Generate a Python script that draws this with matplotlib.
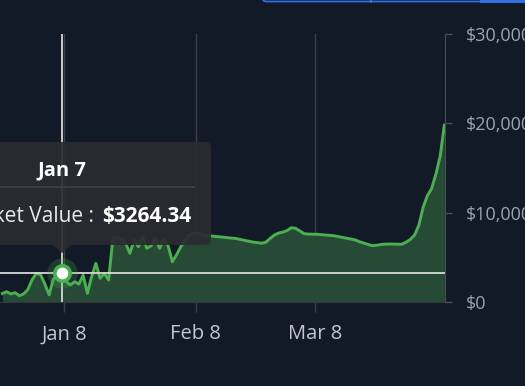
import numpy as np
import pandas as pd
import matplotlib
matplotlib.use("Agg")
import matplotlib.pyplot as plt
import matplotlib.dates as mdates
import matplotlib.patches as mpatches
from matplotlib.transforms import IdentityTransform
from matplotlib.ticker import FuncFormatter, FixedLocator

plt.rcParams["font.family"] = ["Open Sans", "DejaVu Sans"]

# daily market value, one point per day from Dec 24
values = [
    950, 1150, 900, 1040, 700, 900, 1400, 2500, 3200, 3050,
    2000, 800, 2600, 2900, 3264.34, 2300, 1900, 2270, 2010, 3000,
    970, 2830, 4330, 2650, 3210, 2460, 7130, 7240, 7100, 6570,
    5450, 6940, 6190, 7310, 6010, 6300, 7130, 6010, 7020, 6270,
    4510, 5300, 6200, 6900, 7500, 7650, 7690, 7550, 7450, 7390,
    7350, 7300, 7250, 7200, 7150, 7100, 7000, 6900, 6800, 6700,
    6650, 6570, 6700, 7100, 7500, 7720, 7820, 8000, 8320, 8250,
    7950, 7650, 7600, 7590, 7580, 7540, 7500, 7460, 7420, 7330,
    7230, 7140, 7050, 6950, 6750, 6600, 6450, 6300, 6350, 6430,
    6480, 6490, 6480, 6470, 6470, 6700, 7000, 7500, 8600, 10600,
    11900, 12700, 14300, 16300, 19800,
]
dates = pd.date_range("2022-12-24 12:00", periods=len(values), freq="D")

tick_dates = ["2023-01-08", "2023-02-08", "2023-03-08"]
tick_labels = ["Jan 8", "Feb 8", "Mar 8"]
y_ticks = [0, 10000, 20000, 30000]

hover_index = 14
hover_label = "Jan 7"
hover_name = "Market Value :"

BG = "#131a27"
GREEN = "#4caf50"
FILL = "#264a35"
GRID = "#3b3f47"
TEXT = "#9ea3aa"

W, H = 525, 386
fig = plt.figure(figsize=(W / 100, H / 100), dpi=100)
fig.patch.set_facecolor(BG)
ax = fig.add_axes([0, 1 - 302 / H, 445 / W, 268 / H])
ax.set_facecolor(BG)

x = mdates.date2num(dates)
ax.fill_between(x, values, 0, color=FILL, zorder=2, linewidth=0)
ax.plot(x, values, color=GREEN, linewidth=2.1, zorder=3, solid_joinstyle="round")

# axes range
x0 = mdates.date2num(pd.Timestamp("2023-01-08"))
ax.set_xlim(x0 - 64 / 4.25, x0 + 381 / 4.25)
ax.set_ylim(0, 30000)

tick_x = mdates.date2num(pd.to_datetime(tick_dates))
ax.xaxis.set_major_locator(FixedLocator(tick_x))
ax.set_xticklabels(tick_labels)
ax.set_yticks(y_ticks)
ax.yaxis.set_major_formatter(FuncFormatter(lambda v, _: f"${int(v):,}"))
ax.yaxis.tick_right()

ax.grid(axis="x", color=GRID, linewidth=1.0, zorder=1)
ax.tick_params(axis="x", colors="#3c3f45", length=7, width=1, labelcolor="#c3c7cd",
               labelsize=14.5, pad=9)
ax.tick_params(axis="y", colors="#4a4d52", length=5, width=1, labelcolor=TEXT,
               labelsize=13, pad=10)

for side in ["top", "left"]:
    ax.spines[side].set_visible(False)
ax.spines["right"].set_color("#4a4d52")
ax.spines["bottom"].set_color("#34363a")
ax.spines["right"].set_zorder(5)

# hover crosshair and marker
hx = x[hover_index]
hv = values[hover_index]
ax.axvline(hx, color="#d8d8d8", linewidth=1.3, zorder=4)
ax.axhline(hv, color="#d8d8d8", linewidth=1.3, zorder=4)
ax.plot(hx, hv, "o", markersize=22, color=GREEN, alpha=0.22, markeredgewidth=0, zorder=5)
ax.plot(hx, hv, "o", markersize=11, markerfacecolor="white", markeredgecolor=GREEN,
        markeredgewidth=2.6, zorder=6)

# tooltip (pixel coordinates, origin bottom-left)
ident = IdentityTransform()
def py(y):
    return H - y

box = mpatches.FancyBboxPatch((-20, py(245)), 231, 103,
                              boxstyle="round,pad=0,rounding_size=6",
                              transform=ident, facecolor="#2b2c30", edgecolor="none",
                              alpha=0.93, zorder=10)
fig.patches.append(box)
tri = mpatches.Polygon([(53, py(245)), (71, py(245)), (62, py(253))], closed=True,
                       transform=ident, facecolor="#2b2c30", edgecolor="none",
                       alpha=0.93, zorder=10)
fig.patches.append(tri)
fig.add_artist(plt.Line2D([0, 194], [py(187), py(187)], transform=ident,
                          color="#404146", linewidth=1.2, zorder=11))

fig.text(62, py(170), hover_label, transform=ident, ha="center", va="center",
         color="white", fontsize=14.5, fontweight="bold", zorder=12)
fig.text(191, py(216), f"${hv:.2f}", transform=ident, ha="right", va="center",
         color="white", fontsize=15, fontweight="bold", zorder=12)
fig.text(94, py(216), hover_name, transform=ident, ha="right", va="center",
         color="#e8e8e8", fontsize=15, zorder=12)

# cut-off button bar at the top
fig.patches.append(mpatches.FancyBboxPatch((262, py(1.5)), 300, 10,
                                           boxstyle="round,pad=0,rounding_size=4",
                                           transform=ident, facecolor="none",
                                           edgecolor="#2f6fe0", linewidth=1.3))
fig.add_artist(plt.Line2D([371, 371], [py(0), py(1.5)], transform=ident,
                          color="#2f6fe0", linewidth=1.3))
fig.patches.append(mpatches.Rectangle((480, py(2.5)), 50, 4, transform=ident,
                                      facecolor="#2f6fe0", edgecolor="none"))

fig.savefig("out.png", dpi=100, facecolor=BG)
